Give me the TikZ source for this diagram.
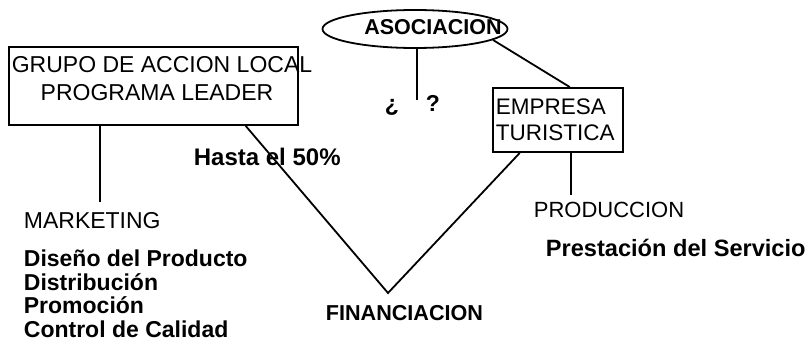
\documentclass[tikz,border=0pt]{standalone}
\usepackage{fontspec}
\setmainfont{Liberation Sans}
\usetikzlibrary{shapes.geometric,calc}
\begin{document}
\begin{tikzpicture}[x=1pt,y=-1pt, line width=1.8pt,
  box/.style={draw, rectangle, inner sep=0pt},
  lbl/.style={inner sep=0pt, anchor=base west, font=\fontsize{23}{23}\selectfont},
  blbl/.style={inner sep=0pt, anchor=base west, font=\fontsize{23}{23}\selectfont\bfseries}]
\useasboundingbox (0,0) rectangle (807,345);
% boxes
\node[box, minimum width=289pt, minimum height=78pt] (grupo) at (153.5,86) {};
\node[lbl, anchor=base] (g1) at (162,73) {GRUPO DE ACCION LOCAL};
\node[lbl, anchor=base] (g2) at (157,101) {PROGRAMA LEADER};
\node[draw, ellipse, inner sep=0pt, minimum width=185pt, minimum height=38pt] (asoc) at (415,29) {};
\node[blbl, anchor=base, font=\fontsize{21.5}{21.5}\selectfont\bfseries] (asoct) at (433,35) {ASOCIACION};
\node[box, minimum width=130pt, minimum height=64pt] (emp) at (558,120) {};
\node[lbl, font=\fontsize{22.5}{22.5}\selectfont] (e1) at (495,115) {EMPRESA};
\node[lbl, font=\fontsize{22.5}{22.5}\selectfont] (e2) at (495,140) {TURISTICA};
% question marks
\node[blbl, anchor=base] (qa) at (392,111) {¿};
\node[blbl, anchor=base] (qb) at (433,111) {?};
\coordinate (q) at (417,100);
% labels
\node[lbl] (mk) at (23,228) {MARKETING};
\node[blbl] (l1) at (23,266) {Diseño del Producto};
\node[blbl] (l2) at (23,290) {Distribución};
\node[blbl] (l3) at (23,313) {Promoción};
\node[blbl] (l4) at (23,337) {Control de Calidad};
\node[lbl, font=\fontsize{22}{22}\selectfont] (pr) at (533,217) {PRODUCCION};
\node[blbl, font=\fontsize{23.6}{23.6}\selectfont\bfseries] (ps) at (545,256) {Prestación del Servicio};
\node[blbl, font=\fontsize{21.6}{21.6}\selectfont\bfseries] (fin) at (325,320) {FINANCIACION};
\node[blbl, font=\fontsize{24}{24}\selectfont\bfseries] (hasta) at (193,165) {Hasta el 50\%};
\coordinate (v) at (388,293);
\coordinate (mkt) at (100,202);
\coordinate (prt) at (571,195);
% connectors
\draw (mkt |- grupo.south) -- (mkt);
\draw (prt |- emp.south) -- (prt);
\draw (q |- asoc.south) -- (q);
\draw (asoc.-8) -- ($(emp.north west)!0.59!(emp.north east)$);
\draw ($(grupo.south west)!0.817!(grupo.south east)$) -- (v) -- ($(emp.south west)!0.21!(emp.south east)$);
\end{tikzpicture}
\end{document}
